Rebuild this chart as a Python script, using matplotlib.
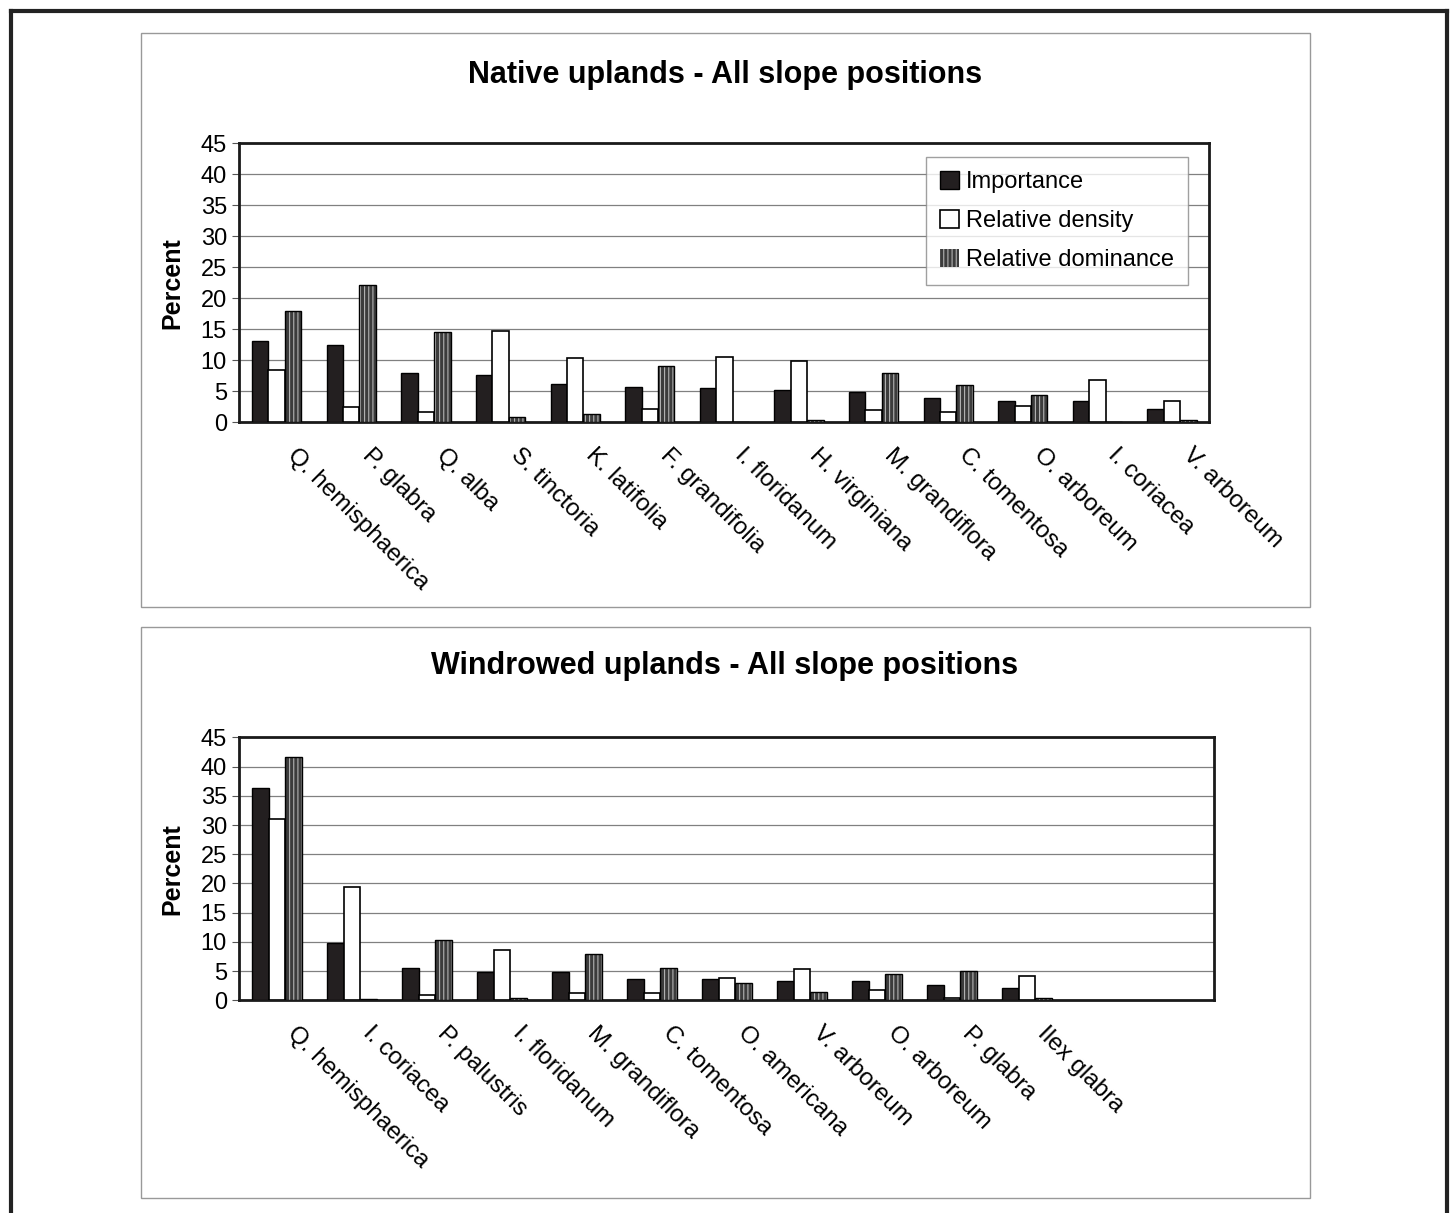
import numpy as np
import matplotlib
matplotlib.use('Agg')
import matplotlib.pyplot as plt
import matplotlib.transforms as mtransforms
from matplotlib.patches import Rectangle
from matplotlib.lines import Line2D

plt.rcParams['font.family'] = ['Liberation Sans', 'DejaVu Sans']
plt.rcParams['hatch.linewidth'] = 0.8

# Native uplands - all slope positions
native_species = ['Q. hemisphaerica', 'P. glabra', 'Q. alba', 'S. tinctoria', 'K. latifolia',
                  'F. grandifolia', 'I. floridanum', 'H. virginiana', 'M. grandiflora',
                  'C. tomentosa', 'O. arboreum', 'I. coriacea', 'V. arboreum']
native_importance = [13.1, 12.4, 8.0, 7.7, 6.1, 5.75, 5.5, 5.2, 4.9, 3.9, 3.5, 3.5, 2.1]
native_density = [8.5, 2.5, 1.6, 14.7, 10.4, 2.15, 10.6, 9.8, 1.9, 1.6, 2.6, 6.8, 3.4]
native_dominance = [18.0, 22.1, 14.5, 0.85, 1.3, 9.0, 0.0, 0.4, 7.9, 6.0, 4.35, 0.0, 0.4]

# Windrowed uplands - all slope positions
wind_species = ['Q. hemisphaerica', 'I. coriacea', 'P. palustris', 'I. floridanum',
                'M. grandiflora', 'C. tomentosa', 'O. americana', 'V. arboreum',
                'O. arboreum', 'P. glabra', 'Ilex glabra']
wind_importance = [36.4, 9.9, 5.6, 4.8, 4.8, 3.65, 3.65, 3.3, 3.3, 2.7, 2.1]
wind_density = [31.1, 19.45, 0.9, 8.7, 1.25, 1.25, 3.8, 5.3, 1.8, 0.4, 4.2]
wind_dominance = [41.6, 0.3, 10.4, 0.35, 7.9, 5.6, 3.0, 1.5, 4.45, 5.0, 0.35]

series_names = ['Importance', 'Relative density', 'Relative dominance']
n_slots = 13
bw = 0.22

fig = plt.figure(figsize=(14.55, 12.13), dpi=100)

# outer frame (open at the bottom) and the two panel boxes
for xs, ys in [([11/1455, 11/1455], [0, 1 - 11/1213]),
               ([11/1455, 1447/1455], [1 - 11/1213, 1 - 11/1213]),
               ([1447/1455, 1447/1455], [1 - 11/1213, 0])]:
    fig.add_artist(Line2D(xs, ys, transform=fig.transFigure, color='#222222', lw=3))
for y0, h in [(1 - 607/1213, 574/1213), (1 - 1198/1213, 571/1213)]:
    fig.add_artist(Rectangle((141/1455, y0), 1169/1455, h, transform=fig.transFigure,
                             fill=False, edgecolor='#999999', lw=1))


def draw_panel(rect, title, title_y, species, imp, dens, dom, legend=False):
    ax = fig.add_axes(rect)
    x = np.arange(len(species))
    ax.bar(x - bw, imp, bw, color='#231f20', edgecolor='black', lw=1, zorder=3)
    ax.bar(x, dens, bw, color='white', edgecolor='black', lw=1.2, zorder=3)
    ax.bar(x + bw, dom, bw, color='#3c3c3c', edgecolor='#b4b4b4', hatch='||||', lw=0, zorder=3)
    ax.bar(x + bw, dom, bw, fill=False, edgecolor='black', lw=1, zorder=4)

    ax.set_xlim(-0.5, n_slots - 0.5)
    ax.set_ylim(0, 45)
    ax.set_yticks(range(0, 46, 5))
    ax.yaxis.grid(True, color='#808080', lw=0.9, zorder=0)
    ax.tick_params(axis='y', labelsize=17, length=5, width=0.8, color='#555555', pad=4)
    ax.tick_params(axis='x', length=0, pad=8)
    ax.set_xticks(x)
    ax.set_xticklabels(species, rotation=-45, ha='left', va='top', rotation_mode='anchor',
                       fontsize=17.5)
    shift = mtransforms.ScaledTranslation(22/100, -11/100, fig.dpi_scale_trans)
    for lab in ax.get_xticklabels():
        lab.set_transform(lab.get_transform() + shift)
    for s in ax.spines.values():
        s.set_linewidth(2)
        s.set_color('#1a1a1a')
    ax.set_ylabel('Percent', fontsize=18, fontweight='bold', labelpad=12)
    fig.text(725/1455, 1 - title_y/1213, title, ha='center', va='center',
             fontsize=22, fontweight='bold')

    if legend:
        handles = [Rectangle((0, 0), 1, 1, facecolor='#231f20', edgecolor='black'),
                   Rectangle((0, 0), 1, 1, facecolor='white', edgecolor='black', lw=1.2),
                   Rectangle((0, 0), 1, 1, facecolor='#3c3c3c', edgecolor='#b4b4b4',
                             hatch='||||', lw=0)]
        leg = ax.legend(handles, series_names, loc='upper right',
                        bbox_to_anchor=(0.978, 0.951), borderaxespad=0,
                        fontsize=17, frameon=True, fancybox=False,
                        handlelength=0.8, handleheight=0.8, handletextpad=0.3,
                        labelspacing=0.7, borderpad=0.6)
        leg.get_frame().set_edgecolor('#888888')
        leg.get_frame().set_linewidth(1)
        leg.set_zorder(5)
    return ax


draw_panel([0.1645, 0.6519, 0.6667, 0.2300], 'Native uplands - All slope positions', 75,
           native_species, native_importance, native_density, native_dominance, legend=True)
draw_panel([0.1645, 0.1753, 0.6701, 0.2168], 'Windrowed uplands - All slope positions', 666,
           wind_species, wind_importance, wind_density, wind_dominance)

fig.savefig('out.png', dpi=100)
